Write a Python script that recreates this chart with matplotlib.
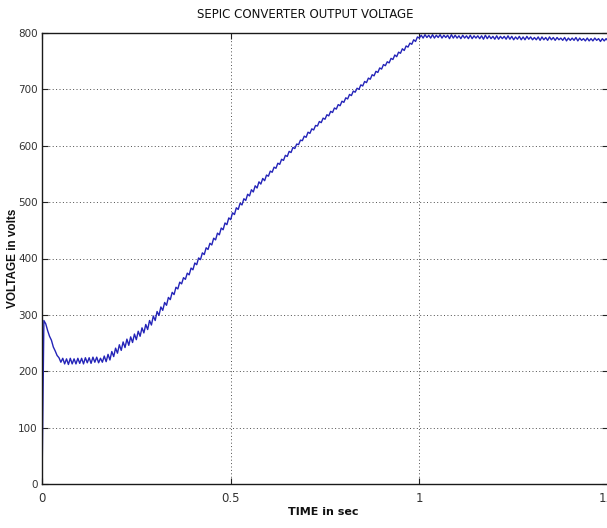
import matplotlib
matplotlib.use("Agg")
import matplotlib.pyplot as plt
import numpy as np

# sampled output voltage of the SEPIC converter, one sample every 5 ms
dt = 0.005
volts = [
    0, 290, 284, 272, 262, 255, 243, 236, 228, 224,
    216, 223, 213, 222, 212, 223, 213, 222, 213, 223,
    214, 223, 213, 224, 215, 224, 214, 225, 216, 225,
    215, 223, 216, 227, 217, 230, 220, 235, 226, 241,
    232, 247, 237, 252, 242, 257, 246, 261, 251, 266,
    256, 271, 262, 277, 268, 283, 274, 290, 282, 298,
    290, 306, 299, 314, 308, 322, 317, 331, 327, 340,
    336, 349, 346, 358, 355, 366, 363, 374, 371, 383,
    380, 392, 389, 401, 398, 410, 407, 419, 416, 427,
    424, 436, 433, 445, 442, 454, 451, 463, 460, 472,
    469, 481, 478, 490, 487, 498, 495, 506, 503, 514,
    511, 522, 518, 529, 525, 536, 532, 542, 538, 548,
    546, 555, 553, 562, 560, 569, 567, 576, 574, 583,
    581, 590, 588, 597, 595, 603, 602, 610, 609, 617,
    615, 624, 622, 630, 628, 636, 635, 643, 641, 649,
    647, 655, 653, 661, 659, 667, 665, 673, 671, 679,
    677, 685, 683, 691, 689, 697, 695, 702, 700, 708,
    706, 714, 712, 720, 718, 726, 724, 732, 730, 738,
    736, 744, 742, 749, 747, 755, 753, 761, 758, 766,
    764, 772, 769, 777, 775, 782, 780, 788, 785, 793,
    791, 796, 791, 797, 792, 796, 791, 797, 791, 796,
    792, 797, 791, 796, 792, 796, 790, 797, 791, 796,
    791, 795, 790, 796, 791, 795, 790, 796, 790, 795,
    791, 795, 790, 795, 789, 796, 790, 795, 790, 794,
    789, 795, 789, 794, 790, 794, 789, 795, 789, 794,
    788, 793, 789, 794, 788, 793, 788, 794, 789, 793,
    788, 792, 788, 793, 787, 793, 788, 792, 787, 793,
    788, 792, 787, 792, 788, 791, 787, 792, 786, 791,
    787, 791, 787, 792, 786, 791, 787, 790, 786, 791,
    786, 790, 786, 791, 787, 790, 785, 790, 786, 790,
    786,
]
time = np.arange(len(volts)) * dt

x_ticks = [0, 0.5, 1, 1.5]
x_tick_labels = ["0", "0.5", "1", "1.5"]
y_ticks = [0, 100, 200, 300, 400, 500, 600, 700, 800]

narrow = ["Liberation Sans Narrow", "DejaVu Sans"]

fig = plt.figure(figsize=(6.07, 5.28), dpi=100)
ax = fig.add_axes([42 / 607, 44 / 528, 566 / 607, 451 / 528])

ax.plot(time, volts, color="#2424b8", linewidth=1.0)

ax.set_xlim(0, 1.5)
ax.set_ylim(0, 800)
ax.set_xticks(x_ticks)
ax.set_xticklabels(x_tick_labels)
ax.set_yticks(y_ticks)

ax.grid(True, color="0.3", linestyle=(0, (1, 2.5)), linewidth=0.7)
ax.tick_params(direction="in", length=4, width=0.8, top=True, right=True,
               colors="#222222", labelcolor="#333333")
ax.tick_params(axis="x", pad=6, labelsize=8.5)
ax.tick_params(axis="y", pad=3, labelsize=7.5)
for lbl in ax.get_xticklabels() + ax.get_yticklabels():
    lbl.set_family(narrow)
for s in ax.spines.values():
    s.set_color("#1a1a1a")
    s.set_linewidth(1.0)

fig.text(305 / 607, 1 - 14 / 528, "SEPIC CONVERTER OUTPUT VOLTAGE",
         ha="center", va="center", fontsize=8.5, family=narrow, color="#111111")
fig.text(323 / 607, 1 - 512 / 528, "TIME in sec", ha="center", va="center",
         fontsize=8, family=narrow, fontweight="bold", color="#111111")
fig.text(13 / 607, 1 - 258 / 528, "VOLTAGE in volts", ha="center", va="center",
         rotation=90, fontsize=8.5, family=["Liberation Sans", "DejaVu Sans"],
         fontweight="bold", color="#111111")

fig.savefig("out.png", dpi=100)
